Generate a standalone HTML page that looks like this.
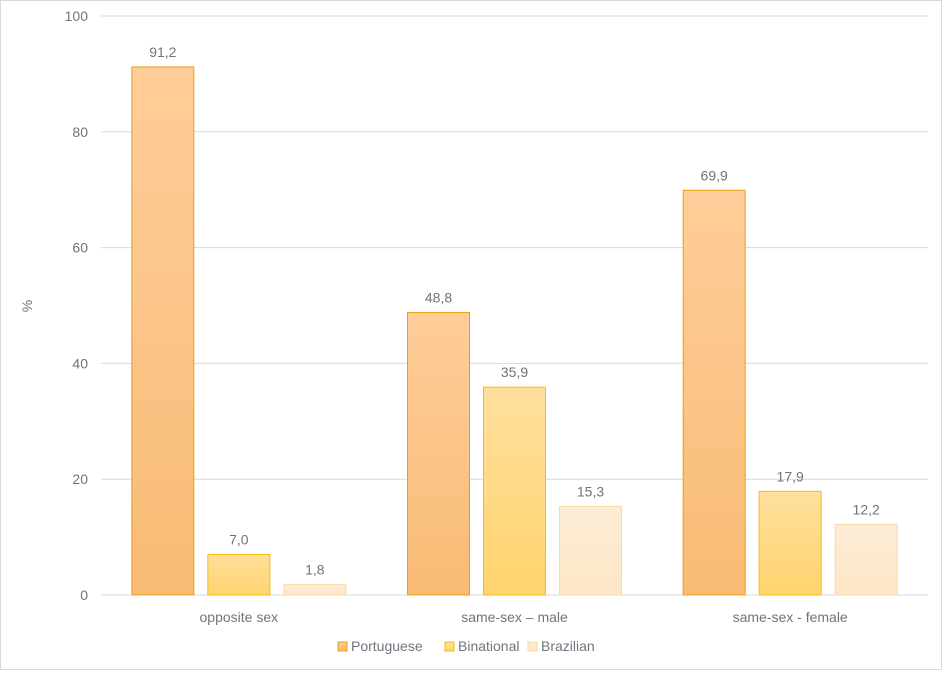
<!DOCTYPE html>
<html><head><meta charset="utf-8"><style>
body{margin:0;background:#fff;font-family:"Liberation Sans",sans-serif;}
#wrap{width:940px;height:668px;border:1px solid #d9d9d9;position:relative;}
</style></head><body>
<div id="wrap">
<svg id="chart" width="940" height="668"></svg>
</div>
<script>
const categories=["opposite sex","same-sex – male","same-sex - female"];
const seriesNames=["Portuguese","Binational","Brazilian"];
const portuguese=[91.2,48.8,69.9];
const binational=[7.0,35.9,17.9];
const brazilian=[1.8,15.3,12.2];
const yTicks=[0,20,40,60,80,100];
const series=[portuguese,binational,brazilian];
const fills=[["#ffcd9a","#f8bb74"],["#ffdf9c","#ffd46e"],["#fdedd6","#fde6c6"]];
const strokes=["#e9a010","#f5bd08","#fbd9a6"];
const txt="#6e757c";
const NS="http://www.w3.org/2000/svg";
const svg=document.getElementById("chart");
const L=100,R=927,T=15,B=594;
function y(v){return B-(v/100)*(B-T);}
const band=(R-L)/categories.length;
function mk(t,a,p){const e=document.createElementNS(NS,t);for(const k in a)e.setAttribute(k,a[k]);(p||svg).appendChild(e);return e;}
const defs=mk("defs",{});
fills.forEach((f,i)=>{const g=mk("linearGradient",{id:"g"+i,x1:0,y1:0,x2:0,y2:1},defs);mk("stop",{offset:0,"stop-color":f[0]},g);mk("stop",{offset:1,"stop-color":f[1]},g);});
yTicks.forEach(t=>{
 const l=mk("line",{x1:L,x2:R,y1:y(t),y2:y(t),stroke:"#d9d9d9","stroke-width":1});
 
 
 const tx=mk("text",{x:87,y:y(t)+5,"text-anchor":"end","font-size":14,fill:txt});tx.textContent=t;
 
 
});
const yt=mk("text",{x:31,y:305,"text-anchor":"middle","font-size":14,fill:txt,transform:"rotate(-90 31 305)"});yt.textContent="%";


const bw=62,step=76;
categories.forEach((c,ci)=>{
 const cx=L+band*(ci+0.5);
 series.forEach((s,si)=>{
  const x=cx+(si-1)*step-bw/2;
  const r=mk("rect",{x:x,y:y(s[ci]),width:bw,height:B-y(s[ci]),fill:"url(#g"+si+")",stroke:strokes[si],"stroke-width":1});
  
  
  const lb=mk("text",{x:x+bw/2,y:y(s[ci])-10,"text-anchor":"middle","font-size":14,fill:txt});
  lb.textContent=s[ci].toFixed(1).replace(".",",");
  
  
 });
 const ct=mk("text",{x:cx,y:621,"text-anchor":"middle","font-size":14,fill:txt});ct.textContent=c;
 
 
});
const lx=[337,444,527];
seriesNames.forEach((n,i)=>{
 const g=mk("g",{});
 
 
 mk("rect",{x:lx[i],y:641,width:9,height:9,fill:"url(#g"+i+")",stroke:strokes[i]},g);
 const t=mk("text",{x:lx[i]+13,y:650,"font-size":14,fill:txt},g);t.textContent=n;
});
</script>
</body></html>
